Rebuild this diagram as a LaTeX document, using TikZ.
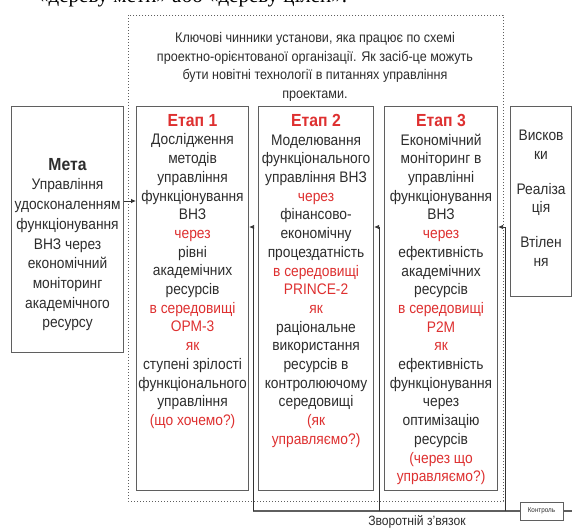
\documentclass[tikz,border=0pt]{standalone}
\usepackage{fontspec}
\setmainfont{Liberation Sans}[FakeStretch=0.9]
\newfontfamily\serifcut{Liberation Serif}
\usetikzlibrary{arrows.meta}
\definecolor{txt}{RGB}{45,45,45}
\definecolor{redt}{RGB}{222,48,48}
\definecolor{boxc}{RGB}{95,95,95}
\newcommand{\rd}[1]{\textcolor{redt}{#1}}
\newcommand{\hd}[1]{{\fontsize{17.5}{20}\selectfont\bfseries #1}}
\tikzset{
  box/.style={draw=boxc, line width=1.1pt, anchor=north west, inner sep=0pt},
  body/.style={anchor=north, align=center, inner sep=0pt, text=txt,
    font=\fontsize{15.3}{18.7}\selectfont},
  arr/.style={draw=black!80, line width=0.8pt, -{Latex[length=5pt,width=4.5pt]}},
  fb/.style={draw=boxc, line width=1.1pt}
}
\begin{document}
\begin{tikzpicture}[x=1pt,y=-1pt]
\useasboundingbox (0,0) rectangle (572,530);
\fill[white] (0,0) rectangle (572,530);
% cut-off text line at the top
\node[anchor=base west, inner sep=0pt, font=\serifcut\fontsize{21}{24}\selectfont, text=black] (cut) at (38,2.5) {«дереву мети» або «дереву цілей».};
% dotted frame
\draw[boxc, line width=1pt, dotted] (128,15) rectangle (503,501);
% intro text
\node[anchor=north, align=center, inner sep=0pt, text=txt, font=\fontsize{14}{18.7}\selectfont] (intro) at (315,32)
 {Ключові чинники установи, яка працює по схемі\\ проектно-орієнтованої організації. Як засіб-це можуть\\ бути новітні технології в питаннях управління\\ проектами.};
% boxes
\node[box, minimum width=112pt, minimum height=246pt] (meta) at (11,106) {};
\node[box, minimum width=112pt, minimum height=384pt] (e1) at (136,106) {};
\node[box, minimum width=115pt, minimum height=384pt] (e2) at (258,106) {};
\node[box, minimum width=113pt, minimum height=384pt] (e3) at (384,106) {};
\node[box, minimum width=61pt, minimum height=190pt] (rb) at (510,106) {};
\node[draw=boxc, line width=1pt, minimum width=43pt, minimum height=18pt, inner sep=0pt, font=\fontsize{7}{8}\selectfont, text=txt] (ctl) at (541.5,511) {Контроль};
% texts
\node[body, font=\fontsize{15.3}{19.7}\selectfont] (tmeta) at ([yshift=-52pt]meta.north)
 {\hd{Мета}\\ Управління\\ удосконаленням\\ функціонування\\ ВНЗ через\\ економічний\\ моніторинг\\ академічного\\ ресурсу};
\node[body] (te1) at ([yshift=-8pt]e1.north)
 {\rd{\hd{Етап 1}}\\ Дослідження\\ методів\\ управління\\ функціонування\\ ВНЗ\\ \rd{через}\\ рівні\\ академічних\\ ресурсів\\ \rd{в середовищі}\\ \rd{ОРМ-3}\\ \rd{як}\\ ступені зрілості\\ функціонального\\ управління\\ \rd{(що хочемо?)}};
\node[body] (te2) at ([yshift=-8pt]e2.north)
 {\rd{\hd{Етап 2}}\\ Моделювання\\ функціонального\\ управління ВНЗ\\ \rd{через}\\ фінансово-\\ економічну\\ процездатність\\ \rd{в середовищі}\\ \rd{PRINCE-2}\\ \rd{як}\\ раціональне\\ використання\\ ресурсів в\\ контролюючому\\ середовищі\\ \rd{(як}\\ \rd{управляємо?)}};
\node[body] (te3) at ([yshift=-8pt]e3.north)
 {\rd{\hd{Етап 3}}\\ Економічний\\ моніторинг в\\ управлінні\\ функціонування\\ ВНЗ\\ \rd{через}\\ ефективність\\ академічних\\ ресурсів\\ \rd{в середовищі}\\ \rd{P2M}\\ \rd{як}\\ ефективність\\ функціонування\\ через\\ оптимізацію\\ ресурсів\\ \rd{(через що}\\ \rd{управляємо?)}};
\node[body] (trb) at ([yshift=-24pt]rb.north)
 {Висков\\ ки\\[16pt] Реаліза\\ ція\\[16pt] Втілен\\ ня};
% arrow goal -> stage 1
\draw[arr] (meta.east |- 0,201) -- (e1.west |- 0,201);
% feedback
\coordinate (f1) at (253,511);
\coordinate (f2) at (379,511);
\coordinate (f3) at (505,511);
\draw[fb] (f1) -- (ctl.west);
\draw[fb] (ctl.east) -- (572,511);
\draw[arr] (f1) -- (253,227) -- (e1.east |- 0,227);
\draw[arr] (f2) -- (379,227) -- (e2.east |- 0,227);
\draw[arr] (f3) -- (505,227) -- (e3.east |- 0,227);
\node[anchor=north, inner sep=0pt, text=txt, font=\fontsize{13.5}{15}\selectfont] (fbl) at (417,515.5) {Зворотній з'вязок};
\end{tikzpicture}
\end{document}
